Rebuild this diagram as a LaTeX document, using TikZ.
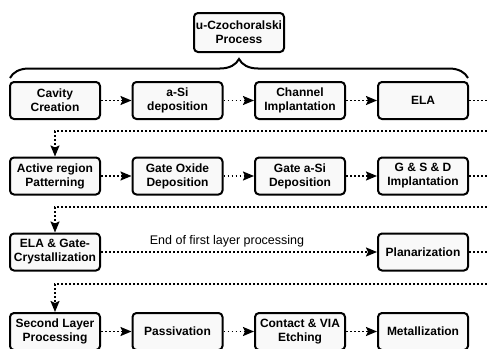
\documentclass[tikz,border=0pt]{standalone}
\usepackage{fontspec}
\setmainfont{Liberation Sans}
\usetikzlibrary{arrows.meta,decorations.pathreplacing}
\tikzset{
  stepbox/.style={draw, line width=2pt, rounded corners=4pt, fill=gray!5,
    minimum width=90pt, minimum height=37pt, inner sep=1pt, align=center,
    font=\bfseries\fontsize{12}{14}\selectfont},
  stub/.style={line width=1.7pt, dash pattern=on 1.7pt off 2.3pt},
  flow/.style={stub, -{Stealth[length=11pt,width=9pt,inset=2pt]}},
}
\begin{document}
\begin{tikzpicture}[x=1pt,y=-1pt]
\useasboundingbox (0,0) rectangle (487,348);
\node[stepbox,minimum height=39pt](uc) at (239,32.5){u-Czochoralski\\Process};
\draw[line width=2pt,decorate,decoration={brace,amplitude=19pt}] (10,78) -- (468,78);
% first row
\node[stepbox](cav) at (55,100.5){Cavity\\Creation};
\node[stepbox](asi) at (177.5,100.5){a-Si\\deposition};
\node[stepbox](chi) at (300,100.5){Channel\\Implantation};
\node[stepbox](ela) at (423,100.5){ELA};
\coordinate(s1) at (487,100.5);
\coordinate(t1) at (487,131);
\draw[flow](cav)--(asi);
\draw[flow](asi)--(chi);
\draw[flow](chi)--(ela);
\draw[stub](ela)--(s1);
% second row
\node[stepbox](act) at (55,176){Active region\\Patterning};
\node[stepbox](gox) at (177.5,176){Gate Oxide\\Deposition};
\node[stepbox](gsi) at (300,176){Gate a-Si\\Deposition};
\node[stepbox](gsd) at (423,176){G \& S \& D\\Implantation};
\coordinate(s2) at (487,176);
\coordinate(t2) at (487,207);
\draw[flow](t1)-|(act);
\draw[flow](act)--(gox);
\draw[flow](gox)--(gsi);
\draw[flow](gsi)--(gsd);
\draw[stub](gsd)--(s2);
% third row
\node[stepbox](elg) at (55,252){ELA \& Gate-\\Crystallization};
\node[stepbox](pla) at (423,252){Planarization};
\node[font=\fontsize{12.5}{14}\selectfont](lbl) at (227,241){End of first layer processing};
\coordinate(s3) at (487,252);
\coordinate(t3) at (487,284);
\draw[flow](t2)-|(elg);
\draw[flow](elg)--(pla);
\draw[stub](pla)--(s3);
% fourth row
\node[stepbox](sec) at (55,331.5){Second Layer\\Processing};
\node[stepbox](pas) at (177.5,331.5){Passivation};
\node[stepbox](cvi) at (300,331.5){Contact \& VIA\\Etching};
\node[stepbox](met) at (423,331.5){Metallization};
\draw[flow](t3)-|(sec);
\draw[flow](sec)--(pas);
\draw[flow](pas)--(cvi);
\draw[flow](cvi)--(met);
\end{tikzpicture}
\end{document}
